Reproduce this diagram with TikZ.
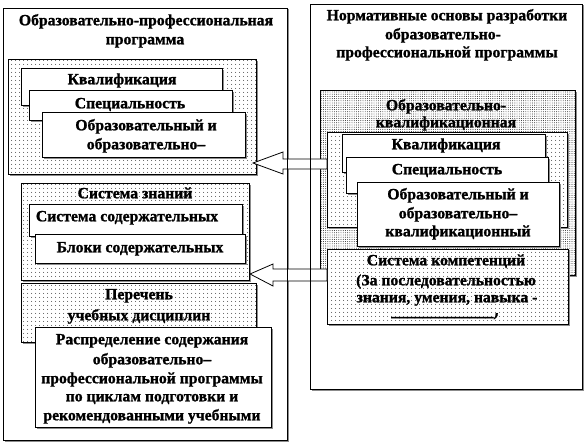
\documentclass[tikz,border=0pt]{standalone}
\usepackage{fontspec}
\setmainfont{Liberation Serif}[BoldFeatures={FakeBold=1.2}]
\usetikzlibrary{patterns.meta,shadows,calc}
\newcommand\mkbox[6]{\node[#6, minimum width={(#4)-(#2)}, minimum height={(#5)-(#3)}] (#1) at ({((#2)+(#4))/2},{((#3)+(#5))/2}) {};}
\begin{document}
\begin{tikzpicture}[x=1pt,y=-1pt,
  every node/.style={inner sep=0pt, outer sep=0pt},
  txt/.style={font=\fontsize{15.7}{19}\selectfont\bfseries, anchor=mid},
  shad/.style={drop shadow={shadow xshift=1.5pt, shadow yshift=-1.5pt, fill=black!45, opacity=1}},
  obox/.style={shad, draw, line width=0.8pt, fill=white},
  wbox/.style={shad, draw, line width=0.8pt, fill=white},
  sbox/.style={shad, preaction={fill=white}, draw, line width=0.8pt, pattern={Dots[distance=4pt, radius=0.5pt]}},
  dbox/.style={shad, preaction={fill=white}, draw, line width=0.8pt, pattern={Dots[distance=2.2pt, radius=0.45pt]}},
  barrow/.style={draw, line width=0.8pt, fill=white, line join=miter}
]
\useasboundingbox (0,0) rectangle (585,444);
% outer boxes
\mkbox{lout}{3}{8}{287}{440}{obox}
\mkbox{rout}{310}{4}{582}{389}{obox}
% left title
\node[txt] (lt1) at (146,23) {Образовательно-профессиональная};
\node[txt] (lt2) at (145,42) {программа};
% left block 1
\mkbox{lb1}{8}{59}{256}{174}{sbox}
\mkbox{lk}{21}{68}{222}{105}{wbox}
\node[txt] (lkt) at (122,82) {Квалификация};
\mkbox{ls}{29}{90}{232}{120}{wbox}
\node[txt] (lst) at (130,106) {Специальность};
\mkbox{lo}{42}{112}{245}{157}{wbox}
\node[txt] (lot1) at (146,128) {Образовательный и};
\node[txt] (lot2) at (146,147) {образовательно–};
% left block 2
\mkbox{lb2}{21}{183}{249}{280}{sbox}
\node[txt] (lb2t) at (135,196) {Система знаний};
\mkbox{lsc}{29}{204}{242}{236}{wbox}
\node[txt] (lsct) at (127,219) {Система содержательных};
\mkbox{lbl}{35}{234}{245}{263}{wbox}
\node[txt] (lblt) at (140,250) {Блоки содержательных};
% left block 3
\mkbox{lb3}{21}{283}{256}{342}{sbox}
\node[txt] (lb3t1) at (139,297) {Перечень};
\node[txt] (lb3t2) at (139,318) {учебных дисциплин};
\mkbox{lr}{35}{327}{271}{427}{wbox}
\node[txt] (lrt1) at (152,342) {Распределение содержания};
\node[txt] (lrt2) at (152,362) {образовательно–};
\node[txt] (lrt3) at (152,381) {профессиональной программы};
\node[txt] (lrt4) at (152,399) {по циклам подготовки и};
\node[txt] (lrt5) at (152,418) {рекомендованными учебными};
% right title
\node[txt] (rt1) at (447,18) {Нормативные основы разработки};
\node[txt] (rt2) at (443,37) {образовательно-};
\node[txt] (rt3) at (447,55) {профессиональной программы};
% right dense block
\mkbox{rd}{320}{90}{575}{275}{dbox}
\node[txt] (rdt1) at (446,108) {Образовательно-};
\node[txt] (rdt2) at (446,125) {квалификационная};
\mkbox{rsp}{327}{132}{567}{227}{sbox}
\mkbox{rk}{342}{134}{545}{172}{wbox}
\node[txt] (rkt) at (446,147) {Квалификация};
\mkbox{rs}{346}{157}{548}{193}{wbox}
\node[txt] (rst) at (447,172) {Специальность};
\mkbox{ro}{357}{182}{559}{246}{wbox}
\node[txt] (rot1) at (458,197) {Образовательный и};
\node[txt] (rot2) at (458,216) {образовательно–};
\node[txt] (rot3) at (458,234) {квалификационный};
\mkbox{rc}{327}{249}{568}{324}{sbox}
\node[txt] (rct1) at (446,263) {Система компетенций};
\node[txt] (rct2) at (446,283) {(За последовательностью};
\node[txt] (rct3) at (447,300) {знания, умения, навыка -};
\begin{scope}
\clip (330,313) rectangle (565,322);
\node[txt, anchor=base] (rct4) at (445,316) {\_\_\_\_\_\_\_\_\_\_\_\_\_)};
\end{scope}
% arrows
\coordinate (a1tip) at (253,163);
\draw[barrow] (rsp.west |- 0,159) -- (283,159) -- (283,152) -- (a1tip) -- (283,174) -- (283,169) -- (rsp.west |- 0,169) -- cycle;
\coordinate (a2tip) at (250,274);
\draw[barrow] (rc.west |- 0,269) -- (273,269) -- (273,264) -- (a2tip) -- (273,286) -- (273,281) -- (rc.west |- 0,281) -- cycle;
% outer borders on top
\draw[line width=0.8pt] (lout.north west) rectangle (lout.south east);
\draw[line width=0.8pt] (rout.north west) rectangle (rout.south east);
\end{tikzpicture}
\end{document}
